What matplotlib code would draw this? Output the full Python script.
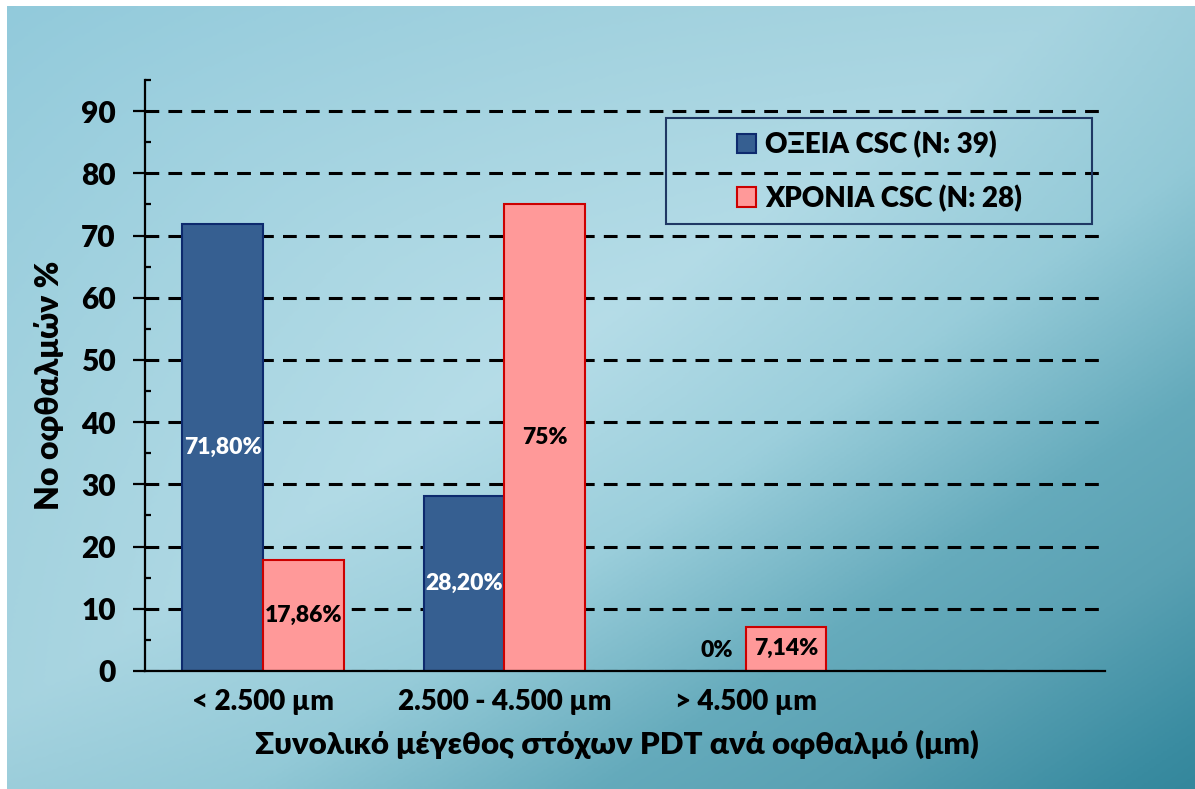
import numpy as np
import matplotlib
matplotlib.use("Agg")
import matplotlib.pyplot as plt
from matplotlib.colors import LinearSegmentedColormap, to_rgb
from matplotlib.patches import Rectangle
from matplotlib.ticker import MultipleLocator

# ---- data ----
categories = ["< 2.500 µm", "2.500 - 4.500 µm", "> 4.500 µm"]
acute_values = [71.80, 28.20, 0.0]
chronic_values = [17.86, 75.0, 7.14]
acute_labels = ["71,80%", "28,20%", "0%"]
chronic_labels = ["17,86%", "75%", "7,14%"]
series_names = ["ΟΞΕΙΑ CSC (N: 39)", "ΧΡΟΝΙΑ CSC (N: 28)"]
y_ticks = [0, 10, 20, 30, 40, 50, 60, 70, 80, 90]
y_label = "Νο οφθαλμών %"
x_label = "Συνολικό μέγεθος στόχων PDT ανά οφθαλμό (μm)"

WEIGHT = 'heavy'
plt.rcParams['font.family'] = ['Lato', 'DejaVu Sans']
plt.rcParams['font.weight'] = WEIGHT

W, H = 1195, 789
fig = plt.figure(figsize=(W / 100, H / 100), dpi=100)
fig.patch.set_facecolor('white')

# gradient backdrop: diagonal ramp, slightly darker towards the off-diagonal corners
bg = fig.add_axes([7 / W, 0, 1 - 7 / W, 1 - 6 / H])
bg.set_axis_off()
yy, xx = np.mgrid[0:1:400j, 0:1:600j]
t = (xx + yy) / 2
s = np.abs(xx - yy)
bg_cmap = LinearSegmentedColormap.from_list(
    'bg', [(0.0, '#92cadb'), (0.3, '#abd7e3'), (0.45, '#b6dde8'),
           (0.6, '#9ccfdc'), (0.75, '#66abbc'), (0.85, '#5aa1b3'),
           (0.965, '#3a8ca1'), (1.0, '#34879c')])
rgb = bg_cmap(t)[..., :3]
shade = np.array(to_rgb('#4a9cb0'))
mix = (0.18 * s ** 1.5)[..., None]
rgb = rgb * (1 - mix) + shade * mix
bg.imshow(rgb, aspect='auto', extent=(0, 1, 0, 1), origin='upper',
          interpolation='bilinear')
bg.set_xlim(0, 1)
bg.set_ylim(0, 1)

# main plot area
ax = fig.add_axes([145 / W, 1 - 671 / H, (1105 - 145) / W, (671 - 80) / H])
ax.patch.set_alpha(0)

x = np.arange(len(categories))
w = 0.335
b1 = ax.bar(x - w / 2, acute_values, w, color='#365f91', edgecolor='#0d2a6e',
            linewidth=1.5, zorder=3, label=series_names[0])
b2 = ax.bar(x + w / 2, chronic_values, w, color='#ff9999', edgecolor='#cc0000',
            linewidth=1.5, zorder=3, label=series_names[1])

# value labels centred in each bar
LBL = 16.5
for xi, v, lab in zip(x - w / 2, acute_values, acute_labels):
    if v > 0:
        ax.text(xi, v / 2, lab, ha='center', va='center', color='white',
                fontsize=LBL, fontweight=WEIGHT, zorder=5)
    else:
        ax.annotate(lab, (xi, 0), xytext=(8, 7), textcoords='offset points',
                    ha='center', va='bottom', color='black', fontsize=LBL,
                    fontweight=WEIGHT, zorder=5)
for xi, v, lab in zip(x + w / 2, chronic_values, chronic_labels):
    ax.text(xi, v / 2, lab, ha='center', va='center', color='black',
            fontsize=LBL, fontweight=WEIGHT, zorder=5)

ax.set_xlim(-0.49, 3.49)
ax.set_ylim(0, 95)
ax.set_yticks(y_ticks)
ax.yaxis.set_minor_locator(MultipleLocator(5))
ax.set_xticks(x, categories)

ax.grid(axis='y', which='major', color='black', linewidth=2.2,
        linestyle=(0, (4.5, 3)), zorder=1)
ax.set_axisbelow(True)

for sp in ['top', 'right']:
    ax.spines[sp].set_visible(False)
for sp in ['left', 'bottom']:
    ax.spines[sp].set_linewidth(1.6)
    ax.spines[sp].set_color('black')
    ax.spines[sp].set_zorder(4)

ax.tick_params(axis='y', which='major', direction='out', length=9, width=1.6,
               labelsize=21.5, pad=12)
ax.tick_params(axis='y', which='minor', direction='in', length=4.5, width=1.6)
ax.tick_params(axis='x', length=0, labelsize=20, pad=13)
for lbl in ax.get_xticklabels() + ax.get_yticklabels():
    lbl.set_fontweight(WEIGHT)

ax.set_ylabel(y_label, fontsize=23, fontweight=WEIGHT)
ax.yaxis.set_label_coords(-0.084, 0.484)
ax.set_xlabel(x_label, fontsize=22.5, fontweight=WEIGHT)
ax.xaxis.set_label_coords(0.4917, -0.1)

# legend frame and entries
fig.add_artist(Rectangle((666 / W, 1 - 224 / H), 426 / W, 106 / H,
                         transform=fig.transFigure, fill=False,
                         edgecolor='#1f3864', linewidth=1.5, zorder=6))
leg = ax.legend(handles=[b1, b2], labels=series_names, loc='center left',
                bbox_to_anchor=(737 / W, 1 - 171.5 / H),
                bbox_transform=fig.transFigure, frameon=False,
                fontsize=20, handlelength=0.68, handleheight=0.68,
                handletextpad=0.32, labelspacing=0.93, borderpad=0,
                borderaxespad=0)
for txt in leg.get_texts():
    txt.set_fontweight(WEIGHT)

fig.savefig('out.png', dpi=100)
